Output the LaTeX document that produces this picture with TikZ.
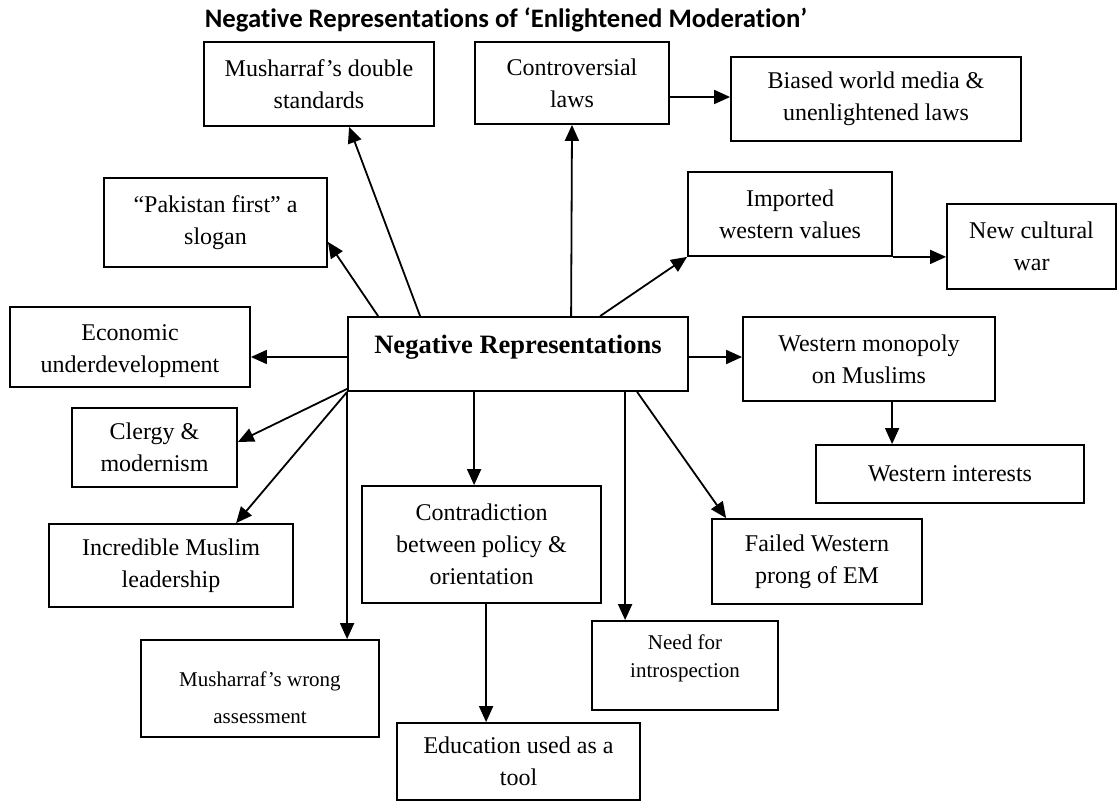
\documentclass[tikz,border=0pt]{standalone}
\usepackage{fontspec}
\setmainfont{Liberation Serif}
\newfontfamily\titlefont[Ligatures=NoCommon]{Carlito}
\usetikzlibrary{arrows.meta,calc}
\begin{document}
\begin{tikzpicture}[x=1pt,y=-1pt,
  box/.style={draw, line width=1.8pt, inner sep=0pt, align=center, font=\fontsize{24}{32}\selectfont},
  smallbox/.style={box, font=\fontsize{21}{28}\selectfont},
  conn/.style={line width=1.8pt, -{Triangle[length=16pt,width=14pt]}},
]
\useasboundingbox (0,0) rectangle (1119,802);
\node[font=\titlefont\bfseries\fontsize{26.7}{30}\selectfont] (title) at (506,20) {Negative Representations of ‘Enlightened Moderation’};

\node[box, minimum width=230pt, minimum height=84pt] (dbl) at (319,84) {Musharraf’s double\\standards};
\node[box, minimum width=194pt, minimum height=82pt] (contro) at (572,83) {Controversial\\laws};
\node[box, minimum width=290pt, minimum height=84pt] (biased) at (876,99) {Biased world media \&\\unenlightened laws};
\node[box, minimum width=223pt, minimum height=89pt] (pak) at (215.5,222.5) {“Pakistan first” a\\slogan};
\node[box, minimum width=204pt, minimum height=84pt] (imported) at (790,214) {Imported\\western values};
\node[box, minimum width=169pt, minimum height=85pt] (newcult) at (1031.5,246.5) {New cultural\\war};
\node[box, minimum width=240pt, minimum height=80pt] (econ) at (130,347) {\rule{0pt}{24pt}Economic\\underdevelopment};
\node[draw, line width=1.8pt, inner sep=0pt, minimum width=340pt, text height=36pt, text depth=38pt,
      font=\bfseries\fontsize{26.5}{30}\selectfont] (ctr) at (518,354) {Negative Representations};
\node[box, minimum width=252pt, minimum height=84pt] (westmono) at (869,359) {Western monopoly\\on Muslims};
\node[box, minimum width=165pt, minimum height=79pt] (clergy) at (154.5,447.5) {Clergy \&\\modernism};
\node[box, minimum width=268pt, minimum height=58pt] (westint) at (950,474) {Western interests};
\node[box, minimum width=244pt, minimum height=83pt] (incred) at (171,565.5) {Incredible Muslim\\leadership};
\node[box, minimum width=239pt, minimum height=117pt] (contra) at (481.5,544.5) {Contradiction\\between policy \&\\orientation};
\node[box, minimum width=210pt, minimum height=85pt] (failed) at (817,561.5) {Failed Western\\prong of EM};
\node[smallbox, minimum width=238pt, minimum height=97pt, font=\fontsize{21}{37}\selectfont] (wrong) at (260,688.5) {\rule{0pt}{33pt}Musharraf’s wrong\\assessment};
\node[smallbox, minimum width=186pt, minimum height=89pt] (need) at (685,665.5) {Need for\\introspection\rule[-19pt]{0pt}{19pt}};
\node[box, minimum width=243pt, minimum height=77pt] (edu) at (518.5,761.5) {Education used as a\\tool};

\draw[conn] ($(ctr.north west)+(31,0)$) -- ($(pak.south east)+(0,-26)$);
\draw[conn] ($(ctr.north west)+(73,0)$) -- ($(dbl.south west)+(146,0)$);
\draw[conn] ($(ctr.north west)+(224,0)$) -- (contro.south);
\draw[conn] ($(ctr.north west)+(253,0)$) -- (imported.south west);
\draw[conn] ($(contro.east)+(0,14)$) -- ($(biased.west)+(0,-2)$);
\draw[conn] (imported.south east) -- (imported.south east -| newcult.west);
\draw[conn] ($(ctr.west)+(0,3)$) -- ($(econ.east)+(0,10)$);
\draw[conn] ($(ctr.east)+(0,3)$) -- ($(westmono.west)+(0,-2)$);
\draw[conn] ($(westmono.south west)+(150,0)$) -- ($(westint.north west)+(77,0)$);
\draw[conn] ($(ctr.south west)+(0,-3)$) -- ($(clergy.east)+(0,-5.5)$);
\draw[conn] (ctr.south west) -- ($(incred.north west)+(188,0)$);
\draw[conn] (ctr.south west) -- (ctr.south west |- wrong.north);
\draw[conn] ($(ctr.south west)+(127,0)$) -- ($(contra.north west)+(113,0)$);
\draw[conn] ($(contra.south west)+(125,0)$) -- ($(edu.north west)+(90,0)$);
\draw[conn] ($(ctr.south west)+(278,0)$) -- ($(need.north west)+(34,0)$);
\draw[conn] ($(ctr.south west)+(290,0)$) -- ($(failed.north west)+(15,0)$);
\end{tikzpicture}
\end{document}
